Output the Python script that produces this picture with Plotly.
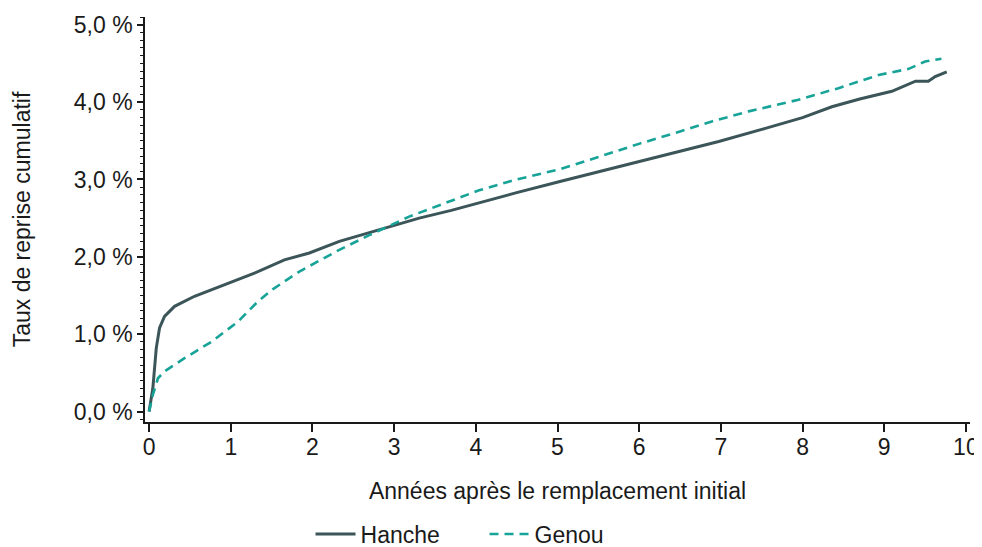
import plotly.graph_objects as go

hanche_x = [0, 0.046, 0.088, 0.128, 0.189, 0.312, 0.556, 0.923, 1.29, 1.657, 1.962, 2.329, 2.696, 3.0, 3.307, 3.7,
            4.04, 4.5, 5.018, 5.5, 5.996, 6.5, 6.974, 7.545, 8.0, 8.359, 8.7, 9.093, 9.383, 9.54, 9.624, 9.765]
hanche_y = [0, 0.30, 0.82, 1.08, 1.23, 1.36, 1.49, 1.64, 1.79, 1.96, 2.05, 2.20, 2.31, 2.41, 2.50, 2.60,
            2.70, 2.83, 2.97, 3.10, 3.23, 3.36, 3.49, 3.66, 3.80, 3.94, 4.04, 4.14, 4.27, 4.27, 4.33, 4.39]

genou_x = [0, 0.046, 0.108, 0.189, 0.434, 0.76, 1.086, 1.33, 1.513, 1.84, 2.329, 2.696, 3.184, 3.6, 4.04, 4.5,
           5.018, 5.5, 5.996, 6.5, 6.89, 7.34, 7.95, 8.44, 8.93, 9.3, 9.5, 9.7]
genou_y = [0, 0.215, 0.43, 0.52, 0.69, 0.90, 1.16, 1.42, 1.58, 1.81, 2.09, 2.28, 2.52, 2.69, 2.86, 3.0,
           3.13, 3.29, 3.46, 3.62, 3.75, 3.88, 4.03, 4.18, 4.35, 4.43, 4.525, 4.56]

y_ticks = [0, 1, 2, 3, 4, 5]
y_tick_labels = ["0,0 %", "1,0 %", "2,0 %", "3,0 %", "4,0 %", "5,0 %"]
x_ticks = list(range(0, 11))

FONT = "Liberation Sans, Arial, sans-serif"
INK = "#1a1a1a"

fig = go.Figure()
fig.add_trace(go.Scatter(x=hanche_x, y=hanche_y, mode="lines", name="Hanche",
                         line=dict(color="#3b5558", width=3)))
fig.add_trace(go.Scatter(x=genou_x, y=genou_y, mode="lines", name="Genou",
                         line=dict(color="#17a397", width=2.6, dash="9px,6px")))

# page body has an 8px margin, so the figure is sized to the visible area
fig.update_layout(
    width=974, height=539,
    margin=dict(l=137, r=12, t=9, b=125, autoexpand=False),
    paper_bgcolor="white", plot_bgcolor="white",
    font=dict(family=FONT, size=23, color=INK),
    showlegend=True,
    legend=dict(orientation="h", xref="container", yref="container",
                x=0.3106, xanchor="left", y=0.024, yanchor="middle",
                font=dict(size=23, color=INK), itemwidth=40, entrywidth=119, tracegroupgap=0,
                bgcolor="rgba(0,0,0,0)"),
    xaxis=dict(range=[-0.05, 10.05], tickvals=x_ticks, ticks="outside", ticklen=8, tickwidth=1.5,
               tickcolor=INK, tickfont=dict(size=23, color=INK), automargin=False, ticklabelstandoff=-4,
               showline=True, linecolor=INK, linewidth=1.5, showgrid=False, zeroline=False,
               title=dict(text="Années après le remplacement initial", font=dict(size=23, color=INK), standoff=24)),
    yaxis=dict(range=[-0.135, 5.1], tickvals=y_ticks, ticktext=y_tick_labels, ticks="outside", ticklen=6,
               tickwidth=1.5, tickcolor=INK, tickfont=dict(size=23, color=INK), automargin=False,
               showline=True, linecolor=INK, linewidth=1.5, showgrid=False, zeroline=False,
               minor=dict(dtick=0.1, tick0=0, ticks="outside", ticklen=3, tickwidth=1.2, tickcolor=INK),
               title=dict(text="Taux de reprise cumulatif", font=dict(size=23, color=INK), standoff=37)),
)

fig.write_html("out.html")
